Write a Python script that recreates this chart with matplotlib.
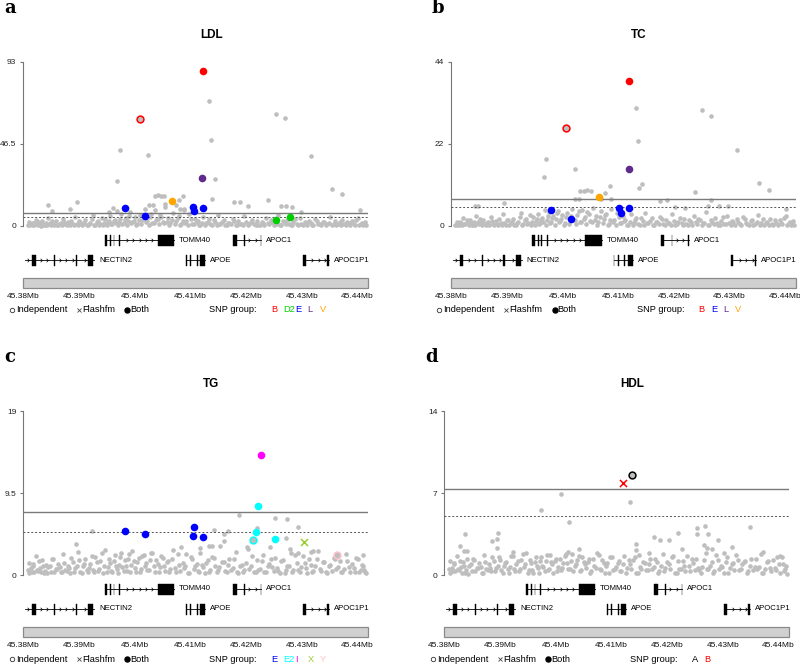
import numpy as np
import matplotlib.pyplot as plt
from matplotlib.patches import Rectangle
from matplotlib.path import Path

plt.rcParams['font.family'] = ['Liberation Sans', 'DejaVu Sans']

W, H = 800, 664
XLIM = (45.38, 45.44194)
GRAY = '#bebebe'

# SNP group colours
grp_col = {'A': 'black', 'B': '#ff0000', 'D2': '#00cd00', 'E': '#0000ff',
           'L': '#5e2a8c', 'V': '#ffa500', 'E2': '#00ffff', 'I': '#ff00ff',
           'X': '#9acd32', 'Y': '#ffc0cb'}

# background SNP positions (Mb), shared by all traits
bg_pos = [45.3808, 45.3811, 45.3815, 45.3818, 45.3822, 45.3826, 45.3830, 45.3834, 45.3837, 45.3841,
          45.3845, 45.3850, 45.3854, 45.3858, 45.3862, 45.3867, 45.3871, 45.3875, 45.3880, 45.3884,
          45.3889, 45.3893, 45.3898, 45.3902, 45.3907, 45.3911, 45.3916, 45.3920, 45.3925, 45.3929,
          45.3934, 45.3938, 45.3943, 45.3947, 45.3952, 45.3956, 45.3960, 45.3964, 45.3968, 45.3972,
          45.3976, 45.3980, 45.3984, 45.3988, 45.3992, 45.3996, 45.4000, 45.4004, 45.4009, 45.4013,
          45.4018, 45.4022, 45.4027, 45.4031, 45.4036, 45.4041, 45.4045, 45.4050, 45.4055, 45.4060,
          45.4064, 45.4069, 45.4074, 45.4079, 45.4083, 45.4088, 45.4093, 45.4098, 45.4103, 45.4108,
          45.4113, 45.4118, 45.4123, 45.4128, 45.4133, 45.4139, 45.4144, 45.4149, 45.4154, 45.4160,
          45.4165, 45.4170, 45.4176, 45.4181, 45.4186, 45.4192, 45.4197, 45.4203, 45.4208, 45.4214,
          45.4219, 45.4225, 45.4230, 45.4236, 45.4241, 45.4247, 45.4252, 45.4258, 45.4263, 45.4269,
          45.4274, 45.4280, 45.4285, 45.4291, 45.4296, 45.4302, 45.4307, 45.4313, 45.4318, 45.4324,
          45.4329, 45.4335, 45.4340, 45.4346, 45.4351, 45.4357, 45.4362, 45.4368, 45.4373, 45.4379,
          45.4384, 45.4390, 45.4395, 45.4401, 45.4406, 45.4410, 45.4414]
bg_pos2 = [45.3810, 45.3813, 45.3817, 45.3820, 45.3824, 45.3828, 45.3832, 45.3836, 45.3839, 45.3843,
           45.3848, 45.3852, 45.3856, 45.3860, 45.3865, 45.3869, 45.3873, 45.3878, 45.3882, 45.3886,
           45.3891, 45.3896, 45.3900, 45.3905, 45.3909, 45.3914, 45.3918, 45.3923, 45.3927, 45.3932,
           45.3936, 45.3941, 45.3945, 45.3950, 45.3954, 45.3958, 45.3962, 45.3966, 45.3970, 45.3974,
           45.3978, 45.3982, 45.3986, 45.3990, 45.3994, 45.3998, 45.4002, 45.4007, 45.4011, 45.4016,
           45.4020, 45.4025, 45.4029, 45.4034, 45.4039, 45.4043, 45.4048, 45.4053, 45.4058, 45.4062,
           45.4067, 45.4072, 45.4077, 45.4081, 45.4086, 45.4091, 45.4096, 45.4101, 45.4106, 45.4111,
           45.4116, 45.4121, 45.4126, 45.4131, 45.4136, 45.4142, 45.4147, 45.4152, 45.4157, 45.4163,
           45.4168, 45.4173, 45.4179, 45.4184, 45.4189, 45.4195, 45.4200, 45.4206, 45.4211, 45.4217,
           45.4222, 45.4228, 45.4233, 45.4239, 45.4244, 45.4250, 45.4255, 45.4261, 45.4266, 45.4272,
           45.4277, 45.4283, 45.4288, 45.4294, 45.4299, 45.4305, 45.4310, 45.4316, 45.4321, 45.4327,
           45.4332, 45.4338, 45.4343, 45.4349, 45.4354, 45.4360, 45.4365, 45.4371, 45.4376, 45.4382,
           45.4387, 45.4393, 45.4398, 45.4403, 45.4408, 45.4412, 45.4416]

bg_ldl = [0.8, 2.1, 0.4, 1.5, 3.2, 0.6, 1.1, 2.6, 0.3, 1.9,
          4.5, 0.7, 1.3, 2.8, 0.5, 1.6, 3.8, 0.9, 2.2, 0.4,
          1.2, 5.1, 0.6, 2.4, 1.0, 3.3, 0.5, 1.7, 6.2, 0.8,
          2.9, 1.4, 0.3, 4.1, 2.0, 5.5, 1.1, 3.6, 8.4, 2.5,
          6.8, 1.8, 4.4, 3.0, 7.9, 2.2, 5.0, 1.3, 6.1, 3.4,
          9.6, 2.7, 4.9, 1.6, 8.8, 3.9, 6.5, 2.1, 10.5, 4.6,
          1.9, 7.2, 3.1, 5.8, 0.9, 9.1, 2.6, 6.7, 1.4, 4.2,
          2.8, 0.7, 5.3, 1.5, 3.7, 0.6, 2.3, 6.0, 1.2, 3.5,
          0.5, 1.8, 4.0, 0.8, 2.6, 1.1, 5.6, 0.4, 2.0, 1.3,
          3.1, 0.6, 1.7, 4.8, 0.9, 2.4, 1.2, 6.4, 0.5, 1.9,
          3.6, 0.7, 2.2, 1.0, 4.3, 0.4, 1.6, 2.9, 0.8, 3.9,
          1.4, 0.3, 2.5, 0.9, 5.2, 1.1, 0.6, 2.0, 3.4, 0.5,
          1.5, 2.7, 0.8, 4.6, 1.2, 0.4, 2.1]
bg2_ldl = [0.3, 1.0, 1.8, 0.5, 0.9, 2.4, 0.2, 1.3, 0.7, 0.4,
           1.6, 2.9, 0.3, 0.8, 1.2, 0.5, 2.0, 0.4, 0.9, 3.0,
           0.6, 1.4, 2.7, 0.3, 1.9, 0.7, 1.1, 3.9, 0.4, 2.3,
           0.8, 4.7, 1.5, 0.6, 3.1, 0.9, 2.6, 1.7, 0.5, 4.0,
           1.2, 3.3, 0.7, 5.4, 1.9, 2.8, 0.6, 3.6, 1.0, 4.4,
           2.3, 0.8, 6.6, 1.5, 3.2, 0.9, 5.1, 1.8, 2.5, 0.7,
           3.6, 1.2, 4.8, 0.5, 2.7, 1.6, 0.4, 3.9, 1.1, 2.0,
           0.6, 1.8, 0.3, 2.5, 1.0, 3.4, 0.5, 1.3, 2.2, 0.4,
           1.7, 0.9, 2.8, 0.3, 1.4, 0.6, 2.1, 1.0, 3.5, 0.5,
           0.8, 2.3, 0.4, 1.5, 3.2, 0.7, 1.1, 0.3, 2.6, 0.9,
           1.4, 0.5, 3.8, 0.8, 1.2, 2.0, 0.4, 1.7, 0.6, 2.9,
           0.9, 2.2, 0.3, 1.6, 0.7, 3.1, 1.3, 0.4, 1.0, 2.4,
           0.6, 1.1, 3.3, 0.5, 1.8, 0.9, 0.3]

bg_tc = [0.4, 1.2, 0.2, 0.9, 2.1, 0.5, 0.7, 1.6, 0.3, 1.1,
         2.6, 0.5, 0.8, 1.7, 0.3, 1.0, 2.3, 0.6, 1.4, 0.2,
         0.8, 3.1, 0.4, 1.5, 0.7, 2.0, 0.3, 1.1, 3.6, 0.5,
         1.8, 0.9, 0.2, 2.5, 1.3, 3.2, 0.7, 2.2, 4.4, 1.6,
         3.8, 1.1, 2.7, 1.9, 4.1, 1.4, 3.0, 0.8, 3.5, 2.0,
         4.6, 1.7, 2.9, 1.0, 4.2, 2.4, 3.7, 1.3, 4.9, 2.8,
         1.2, 3.9, 1.9, 3.3, 0.6, 4.5, 1.6, 3.4, 0.9, 2.6,
         1.7, 0.4, 3.1, 0.9, 2.2, 0.4, 1.4, 3.5, 0.7, 2.1,
         0.3, 1.1, 2.4, 0.5, 1.6, 0.7, 3.3, 0.3, 1.2, 0.8,
         1.9, 0.4, 1.0, 2.8, 0.6, 1.5, 0.7, 3.7, 0.3, 1.2,
         2.2, 0.4, 1.3, 0.6, 2.6, 0.3, 1.0, 1.8, 0.5, 2.3,
         0.9, 0.2, 1.5, 0.6, 3.0, 0.7, 0.4, 1.2, 2.0, 0.3,
         0.9, 1.6, 0.5, 2.7, 0.8, 0.3, 1.3]
bg2_tc = [0.2, 0.6, 1.1, 0.3, 0.5, 1.5, 0.2, 0.8, 0.4, 0.3,
          1.0, 1.8, 0.2, 0.5, 0.7, 0.3, 1.3, 0.3, 0.6, 1.9,
          0.4, 0.9, 1.7, 0.2, 1.2, 0.4, 0.7, 2.5, 0.3, 1.5,
          0.5, 2.9, 1.0, 0.4, 2.0, 0.6, 1.7, 1.1, 0.3, 2.6,
          0.8, 2.1, 0.4, 3.4, 1.2, 1.8, 0.4, 2.3, 0.6, 2.8,
          1.5, 0.5, 4.1, 1.0, 2.0, 0.6, 3.2, 1.1, 1.6, 0.4,
          2.3, 0.8, 3.0, 0.3, 1.7, 1.0, 0.3, 2.5, 0.7, 1.3,
          0.4, 1.1, 0.2, 1.6, 0.6, 2.2, 0.3, 0.8, 1.4, 0.3,
          1.1, 0.6, 1.8, 0.2, 0.9, 0.4, 1.3, 0.6, 2.2, 0.3,
          0.5, 1.5, 0.3, 1.0, 2.0, 0.4, 0.7, 0.2, 1.7, 0.6,
          0.9, 0.3, 2.4, 0.5, 0.8, 1.3, 0.3, 1.1, 0.4, 1.8,
          0.6, 1.4, 0.2, 1.0, 0.4, 2.0, 0.8, 0.3, 0.6, 1.5,
          0.4, 0.7, 2.1, 0.3, 1.1, 0.6, 0.2]

bg_tg = [0.6, 1.4, 0.3, 1.0, 2.2, 0.5, 0.8, 1.7, 0.2, 1.2,
         0.9, 0.4, 1.9, 0.7, 1.3, 0.3, 2.4, 0.6, 1.1, 0.2,
         1.5, 0.8, 2.7, 0.4, 1.0, 1.8, 0.3, 1.3, 0.6, 2.1,
         0.5, 1.6, 0.2, 2.9, 0.9, 1.4, 0.4, 2.3, 0.7, 1.2,
         2.6, 0.5, 1.0, 1.9, 0.3, 2.8, 0.8, 1.5, 0.4, 2.2,
         1.1, 0.6, 1.7, 2.5, 0.3, 1.3, 0.9, 2.0, 0.5, 1.6,
         0.7, 2.9, 0.4, 1.2, 3.2, 0.8, 2.4, 0.2, 1.8, 1.0,
         0.5, 2.6, 0.9, 1.4, 0.3, 2.1, 1.1, 0.6, 3.4, 1.5,
         0.4, 1.9, 0.8, 2.7, 0.2, 1.2, 0.6, 3.0, 1.0, 0.4,
         1.7, 0.7, 2.3, 0.3, 1.3, 0.9, 2.0, 0.5, 1.6, 0.2,
         1.1, 2.5, 0.6, 1.4, 0.3, 2.2, 0.8, 1.8, 0.4, 1.0,
         2.8, 0.5, 1.5, 0.2, 1.2, 2.0, 0.7, 1.6, 0.3, 2.4,
         0.9, 1.3, 0.4, 1.9, 0.6, 1.1, 0.3]
bg2_tg = [0.2, 0.8, 1.3, 0.4, 0.6, 1.6, 0.3, 1.0, 0.5, 0.2,
          1.1, 1.9, 0.4, 0.7, 0.9, 0.3, 1.4, 0.5, 0.8, 2.0,
          0.3, 1.0, 1.7, 0.2, 1.3, 0.6, 0.8, 2.2, 0.4, 1.5,
          0.7, 2.5, 1.1, 0.3, 1.8, 0.5, 1.6, 1.0, 0.2, 2.1,
          0.9, 1.7, 0.5, 2.4, 1.2, 1.6, 0.3, 2.0, 0.7, 2.3,
          1.4, 0.6, 2.6, 1.0, 1.7, 0.4, 2.2, 1.1, 1.5, 0.3,
          1.9, 0.8, 2.4, 0.5, 1.4, 1.0, 0.2, 2.1, 0.7, 1.3,
          0.4, 1.2, 0.2, 1.7, 0.6, 2.0, 0.3, 0.9, 1.5, 0.5,
          1.2, 0.6, 1.9, 0.3, 1.0, 0.4, 1.4, 0.7, 2.2, 0.3,
          0.6, 1.6, 0.4, 1.1, 1.9, 0.5, 0.8, 0.2, 1.7, 0.6,
          1.0, 0.3, 2.3, 0.6, 0.9, 1.4, 0.2, 1.2, 0.5, 1.8,
          0.7, 1.5, 0.3, 1.1, 0.5, 1.9, 0.9, 0.3, 0.7, 1.6,
          0.4, 0.8, 2.0, 0.3, 1.2, 0.6, 0.2]

bg_hdl = [0.5, 1.2, 0.3, 0.9, 1.6, 0.4, 0.7, 1.1, 0.2, 1.4,
          0.8, 0.3, 1.3, 0.6, 1.0, 0.2, 1.7, 0.5, 0.9, 0.3,
          1.2, 0.6, 1.5, 0.4, 0.8, 1.1, 0.2, 1.6, 0.5, 0.9,
          0.3, 1.3, 0.7, 1.9, 0.4, 1.0, 0.2, 1.5, 0.6, 1.2,
          0.8, 0.3, 1.7, 0.5, 1.1, 0.2, 1.4, 0.7, 0.4, 1.0,
          1.8, 0.5, 1.2, 0.3, 0.9, 1.6, 0.4, 1.1, 0.6, 1.4,
          0.3, 0.8, 1.9, 0.5, 1.3, 0.2, 1.0, 1.5, 0.4, 0.7,
          1.2, 0.3, 1.6, 0.6, 0.9, 1.3, 0.2, 1.7, 0.5, 1.0,
          0.4, 1.4, 0.7, 1.1, 0.3, 1.8, 0.6, 0.9, 1.5, 0.2,
          1.2, 0.5, 0.8, 1.6, 0.3, 1.0, 1.4, 0.4, 0.7, 1.9,
          0.5, 1.1, 0.3, 1.3, 0.8, 0.2, 1.5, 0.6, 1.0, 1.7,
          0.4, 0.9, 1.2, 0.3, 1.4, 0.7, 0.5, 1.8, 0.2, 1.1,
          0.6, 1.3, 0.4, 0.9, 1.5, 0.3, 0.8]
bg2_hdl = [0.2, 0.6, 1.0, 0.3, 0.5, 1.2, 0.2, 0.8, 0.4, 0.1,
           0.9, 1.4, 0.3, 0.6, 0.7, 0.2, 1.1, 0.4, 0.6, 1.5,
           0.3, 0.8, 1.3, 0.2, 1.0, 0.5, 0.7, 1.6, 0.3, 1.2,
           0.5, 1.8, 0.9, 0.2, 1.3, 0.4, 1.1, 0.8, 0.2, 1.5,
           0.7, 1.2, 0.4, 1.7, 0.9, 1.2, 0.3, 1.4, 0.6, 1.6,
           1.0, 0.5, 1.8, 0.8, 1.3, 0.3, 1.5, 0.9, 1.1, 0.2,
           1.4, 0.6, 1.7, 0.4, 1.0, 0.8, 0.2, 1.5, 0.5, 1.0,
           0.3, 0.9, 0.2, 1.3, 0.5, 1.5, 0.2, 0.7, 1.1, 0.4,
           0.9, 0.5, 1.4, 0.2, 0.8, 0.3, 1.1, 0.5, 1.6, 0.2,
           0.5, 1.2, 0.3, 0.8, 1.4, 0.4, 0.6, 0.2, 1.3, 0.5,
           0.8, 0.2, 1.7, 0.5, 0.7, 1.1, 0.2, 0.9, 0.4, 1.3,
           0.5, 1.1, 0.2, 0.8, 0.4, 1.4, 0.7, 0.2, 0.5, 1.2,
           0.3, 0.6, 1.5, 0.2, 0.9, 0.5, 0.1]

# other grey SNPs standing out of the band
ldl_hi_x = [45.4133, 45.4253, 45.4269, 45.4137, 45.3973, 45.4024, 45.4316, 45.3968, 45.4145, 45.4355,
            45.4373, 45.4138, 45.4036, 45.4042, 45.4048, 45.4052, 45.4087, 45.4079, 45.3897, 45.3844,
            45.3852, 45.3883, 45.4240, 45.4178, 45.4189, 45.4204, 45.4262, 45.4271, 45.4282, 45.4298,
            45.4404, 45.3961, 45.4025, 45.4032, 45.4054, 45.4074, 45.4082, 45.4089, 45.3953]
ldl_hi_y = [70.7, 63.5, 61.1, 48.6, 42.9, 40.5, 39.9, 25.7, 26.5, 20.8,
            18.0, 15.1, 17.2, 17.3, 17.2, 17.0, 17.0, 14.7, 13.6, 11.9,
            8.3, 9.5, 14.7, 13.4, 13.6, 11.3, 11.3, 11.3, 10.9, 7.9,
            9.2, 10.0, 12.1, 12.1, 12.5, 11.7, 9.6, 9.9, 8.0]

tc_hi_x = [45.4132, 45.4251, 45.4267, 45.4135, 45.4314, 45.3971, 45.3967, 45.4022, 45.4143, 45.4137,
           45.4353, 45.4371, 45.4238, 45.4085, 45.4032, 45.4038, 45.4044, 45.4051, 45.4076, 45.4088,
           45.4023, 45.4030, 45.4070, 45.4188, 45.4176, 45.4267, 45.3896, 45.3849, 45.3843, 45.4402,
           45.4297, 45.4281, 45.4261, 45.4202, 45.4220]
tc_hi_y = [31.7, 31.0, 29.6, 22.9, 20.3, 18.0, 13.2, 15.3, 11.4, 10.1,
           11.6, 9.6, 9.1, 10.8, 9.4, 9.5, 9.6, 9.4, 8.8, 7.2,
           7.2, 7.2, 7.2, 7.0, 6.6, 6.9, 6.3, 5.3, 5.5, 4.5,
           5.4, 5.3, 5.3, 5.1, 4.8]

tg_hi_x = [45.4187, 45.4252, 45.4273, 45.4220, 45.4293, 45.3924, 45.4142, 45.4168, 45.4161, 45.3894,
           45.4271, 45.4243, 45.4202, 45.4118, 45.4133, 45.4138, 45.4160, 45.4279, 45.4316, 45.4320,
           45.4294, 45.4409]
tg_hi_y = [6.9, 6.6, 6.5, 5.4, 5.6, 5.05, 5.25, 5.1, 4.8, 3.6,
           4.3, 3.2, 3.3, 3.1, 3.4, 3.4, 3.9, 3.0, 2.7, 2.75,
           2.5, 2.35]

hdl_hi_x = [45.4009, 45.4133, 45.3973, 45.4024, 45.4349, 45.4253, 45.4268, 45.4253, 45.4273, 45.3837,
            45.3897, 45.3895, 45.3885, 45.4219, 45.4177, 45.4188, 45.4204, 45.4292, 45.4144, 45.3829,
            45.3835, 45.3841, 45.3895, 45.3923, 45.4022, 45.4042, 45.4145, 45.4167, 45.4226, 45.4267,
            45.4272, 45.4281, 45.4302, 45.4316, 45.4373, 45.4402]
hdl_hi_y = [6.9, 6.2, 5.55, 4.5, 4.1, 4.0, 4.15, 3.47, 3.47, 3.47,
            3.55, 3.04, 2.93, 3.55, 3.24, 2.96, 2.96, 2.98, 2.65, 2.44,
            2.02, 2.02, 2.3, 2.0, 2.0, 2.2, 2.1, 1.9, 2.2, 2.6,
            2.3, 2.2, 1.85, 2.4, 2.0, 1.6]

# coloured SNPs: kind = both (filled), indep (open circle), flash (cross)
ldl_snp_x = [45.4122, 45.4009, 45.4120, 45.4067, 45.3982, 45.4018, 45.4104, 45.4107, 45.4122, 45.4253, 45.4279]
ldl_snp_y = [88.1, 60.5, 27.4, 14.0, 10.0, 5.7, 10.8, 8.3, 10.4, 3.2, 5.3]
ldl_snp_grp = ['B', 'B', 'L', 'V', 'E', 'E', 'E', 'E', 'E', 'D2', 'D2']
ldl_snp_kind = ['both', 'indep', 'both', 'both', 'both', 'both', 'both', 'both', 'both', 'both', 'both']

tc_snp_x = [45.4120, 45.4007, 45.4119, 45.4065, 45.3980, 45.4016, 45.4102, 45.4105, 45.4120]
tc_snp_y = [39.0, 26.2, 15.3, 7.9, 4.2, 2.0, 4.8, 3.5, 4.7]
tc_snp_grp = ['B', 'B', 'L', 'V', 'E', 'E', 'E', 'E', 'E']
tc_snp_kind = ['both', 'indep', 'both', 'both', 'both', 'both', 'both', 'both', 'both']

tg_snp_x = [45.4227, 45.4222, 45.4217, 45.4252, 45.4213, 45.3982, 45.4018, 45.4107, 45.4104, 45.4122, 45.4304, 45.4363]
tg_snp_y = [13.9, 8.0, 5.0, 4.2, 4.0, 5.1, 4.75, 5.6, 4.5, 4.4, 3.8, 2.3]
tg_snp_grp = ['I', 'E2', 'E2', 'E2', 'E2', 'E', 'E', 'E', 'E', 'E', 'X', 'Y']
tg_snp_kind = ['both', 'both', 'both', 'both', 'indep', 'both', 'both', 'both', 'both', 'both', 'flash', 'indep']

hdl_snp_x = [45.4137, 45.4121]
hdl_snp_y = [8.54, 7.88]
hdl_snp_grp = ['A', 'B']
hdl_snp_kind = ['indep', 'flash']

# genes
gene_names = ['TOMM40', 'APOC1', 'NECTIN2', 'APOE', 'APOC1P1']
gene_start = [45.3946, 45.4177, 45.3803, 45.4092, 45.4302]
gene_end = [45.4071, 45.4227, 45.3927, 45.4127, 45.4348]
gene_row = [0, 0, 1, 1, 1]
gene_exons = [
    [(45.3946, 45.3951), (45.3956, 45.3957), (45.3962, 45.3963), (45.3972, 45.3973), (45.4041, 45.4071)],
    [(45.4177, 45.4183), (45.4196, 45.4197), (45.4226, 45.4227)],
    [(45.3816, 45.3822), (45.3856, 45.3857), (45.3894, 45.3897), (45.3916, 45.3926)],
    [(45.4092, 45.4093), (45.4100, 45.4101), (45.4111, 45.4113), (45.4118, 45.4127)],
    [(45.4302, 45.4307), (45.4345, 45.4348)],
]
tick_mb = [45.38, 45.39, 45.40, 45.41, 45.42, 45.43, 45.44]

fig = plt.figure(figsize=(8, 6.64), dpi=100)


def rect(x0, y0, w, h):
    # pixel box (top-left origin) -> figure fraction
    return [x0 / W, 1 - (y0 + h) / H, w / W, h / H]


chev = Path([(-0.5, 1), (0.5, 0), (-0.5, -1)], [Path.MOVETO, Path.LINETO, Path.LINETO])


def draw_panel(letter, title, left, top, ymax, bg, bg2, hi_x, hi_y, sx, sy, sgrp, skind, groups):
    ax = fig.add_axes(rect(left, top, 345, 164))
    ax.set_xlim(XLIM)
    ax.set_ylim(0, ymax)
    for xs, ys in [(bg_pos, bg), (bg_pos2, bg2), (hi_x, hi_y)]:
        ax.scatter(xs, ys, s=11, c=GRAY, lw=0, clip_on=False, zorder=2)
    ax.axhline(7.3, color='#7a7a7a', lw=1.0, zorder=3)
    ax.axhline(5, color='#555555', lw=0.7, ls=(0, (2, 2)), zorder=3)
    for x, y, g, k in zip(sx, sy, sgrp, skind):
        col = grp_col[g]
        if k == 'both':
            ax.scatter(x, y, s=30, c=col, lw=0, zorder=5, clip_on=False)
        elif k == 'indep':
            ax.scatter(x, y, s=24, facecolor=GRAY, edgecolor=col, lw=1.1, zorder=5)
        else:
            ax.scatter(x, y, s=26, marker='x', c=col, lw=1.1, zorder=5)
    for s in ['top', 'right', 'bottom']:
        ax.spines[s].set_visible(False)
    ax.spines['left'].set_color('#777777')
    ax.spines['left'].set_linewidth(0.8)
    ax.set_xticks([])
    ticks = [0, ymax / 2, ymax]
    ax.set_yticks(ticks)
    ax.set_yticklabels([f'{t:g}' for t in ticks])
    ax.tick_params(axis='y', length=2.5, width=0.8, color='#777777', labelsize=6,
                   pad=2.5, labelcolor='#222222')

    # gene track + coordinate bar
    gax = fig.add_axes(rect(left, top + 170, 345, 56))
    gax.set_xlim(XLIM)
    gax.set_ylim(56, 0)
    for s in gax.spines.values():
        s.set_visible(False)
    gax.set_yticks([])
    gax.set_xticks(tick_mb)
    gax.set_xticklabels([f'{t:g}Mb' for t in tick_mb])
    gax.tick_params(axis='x', length=0, pad=3.5, labelsize=6, labelcolor='#111111')
    gax.add_patch(Rectangle((XLIM[0], 46), XLIM[1] - XLIM[0], 10, facecolor='#d0d0d0',
                            edgecolor='#8a8a8a', lw=0.9, clip_on=False))
    step = 0.00114
    for name, gs, ge, row, exons in zip(gene_names, gene_start, gene_end, gene_row, gene_exons):
        yrow = 8 if row == 0 else 28
        gax.plot([gs, ge], [yrow, yrow], color='black', lw=0.6)
        arr = [a for a in np.arange(gs + step / 2, ge, step)
               if all(not (es - 0.0003 < a < ee + 0.0003) for es, ee in exons)]
        gax.plot(arr, [yrow] * len(arr), ls='none', marker=chev, ms=2.5, mfc='none',
                 mec='black', mew=0.5)
        for es, ee in exons:
            gax.add_patch(Rectangle((es, yrow - 5.5), max(ee - es, 0.00015), 11,
                                    facecolor='black', edgecolor='black', lw=0.3))
        gax.text(ge + 0.0009, yrow, name, fontsize=5.6, va='center', ha='left')

    # legend row (symbols drawn as markers)
    ly_px = top + 248
    lax = fig.add_axes(rect(left - 20, ly_px - 6, 120, 12))
    lax.set_xlim(left - 20, left + 100)
    lax.set_ylim(6, -6)
    lax.axis('off')
    lax.plot([left - 11.5], [0], marker='o', ms=3.2, mfc='white', mec='#333333', mew=0.6)
    lax.plot([left + 55.5], [0], marker='x', ms=3.2, color='#444444', mew=0.6)
    lax.plot([left + 103.5], [0], marker='o', ms=3.6, color='black', clip_on=False)
    ly = 1 - ly_px / H
    fs = 6.7
    fig.text((left - 7.5) / W, ly, 'Independent', fontsize=fs, va='center', ha='left')
    fig.text((left + 58.7) / W, ly, 'Flashfm', fontsize=fs, va='center', ha='left')
    fig.text((left + 106.7) / W, ly, 'Both', fontsize=fs, va='center', ha='left')
    fig.text((left + 186) / W, ly, 'SNP group:', fontsize=fs, va='center', ha='left')
    for i, g in enumerate(groups):
        fig.text((left + 247.5 + 12.3 * i) / W, ly, g, fontsize=fs, va='center',
                 ha='left', color=grp_col[g])

    # panel letter and title
    fig.text((left - 19) / W, 1 - (top - 49) / H, letter, fontsize=13, fontweight='bold',
             family='DejaVu Serif', va='baseline', ha='left')
    fig.text((left + 188) / W, 1 - (top - 27) / H, title, fontsize=8.5, fontweight='bold',
             va='center', ha='center')


draw_panel('a', 'LDL', 23.3, 62, 93, bg_ldl, bg2_ldl, ldl_hi_x, ldl_hi_y,
           ldl_snp_x, ldl_snp_y, ldl_snp_grp, ldl_snp_kind, ['B', 'D2', 'E', 'L', 'V'])
draw_panel('b', 'TC', 451, 62, 44, bg_tc, bg2_tc, tc_hi_x, tc_hi_y,
           tc_snp_x, tc_snp_y, tc_snp_grp, tc_snp_kind, ['B', 'E', 'L', 'V'])
draw_panel('c', 'TG', 23.3, 411, 19, bg_tg, bg2_tg, tg_hi_x, tg_hi_y,
           tg_snp_x, tg_snp_y, tg_snp_grp, tg_snp_kind, ['E', 'E2', 'I', 'X', 'Y'])
draw_panel('d', 'HDL', 444.3, 411, 14, bg_hdl, bg2_hdl, hdl_hi_x, hdl_hi_y,
           hdl_snp_x, hdl_snp_y, hdl_snp_grp, hdl_snp_kind, ['A', 'B'])

fig.savefig('out.png', dpi=100)
